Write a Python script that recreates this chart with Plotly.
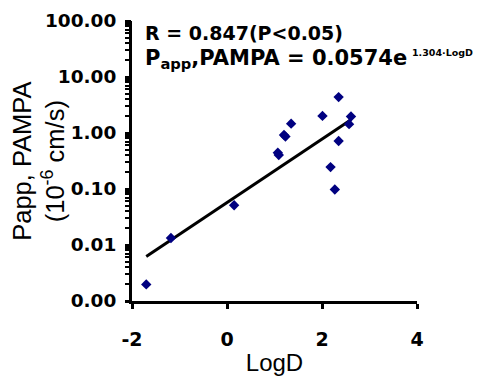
import numpy as np
import plotly.graph_objects as go

# Data
logd = [-1.70, -1.18, 0.15, 1.07, 1.09, 1.20, 1.23, 1.35, 2.01, 2.18, 2.27, 2.35, 2.35, 2.57, 2.61]
papp = [0.00198, 0.0133, 0.0514, 0.446, 0.405, 0.925, 0.863, 1.47, 2.02, 0.246, 0.098, 4.38, 0.72, 1.44, 1.97]

# Fit reported in the chart: Papp = a * exp(b * LogD)
fit_a = 0.0574
fit_b = 1.304

x_ticks = [-2, 0, 2, 4]
y_tickvals = [0.001, 0.01, 0.1, 1, 10, 100]
y_ticktext = ["0.00", "0.01", "0.10", "1.00", "10.00", "100.00"]

ARIAL = "Arial, Liberation Sans, sans-serif"
WIDEB = "DejaVu Sans, Verdana, sans-serif"

fx = np.linspace(min(logd), max(logd), 50)
fy = fit_a * np.exp(fit_b * fx)

# y axis carries major (labelled) and minor (unlabelled) tick positions
minor_vals = [k * 10.0 ** e for e in range(-3, 2) for k in range(2, 10)]
all_vals = y_tickvals + minor_vals
all_text = y_ticktext + [""] * len(minor_vals)

fig = go.Figure()
fig.add_trace(go.Scatter(x=fx, y=fy, mode="lines",
                         line=dict(color="black", width=3), showlegend=False, hoverinfo="skip"))
fig.add_trace(go.Scatter(x=logd, y=papp, mode="markers",
                         marker=dict(symbol="diamond", size=8, color="#000080"),
                         showlegend=False))
# invisible carrier for the overlay axis that draws the longer major ticks
fig.add_trace(go.Scatter(x=[0], y=[1], yaxis="y2", mode="markers",
                         marker=dict(opacity=0), showlegend=False, hoverinfo="skip"))

fig.update_layout(
    width=481, height=376,
    margin=dict(l=124, r=72, t=13, b=83),
    paper_bgcolor="white", plot_bgcolor="white",
    font=dict(family=ARIAL, color="black"),
    xaxis=dict(range=[-2, 4], tickvals=x_ticks, ticktext=[str(v) for v in x_ticks],
               showline=True, linecolor="black", linewidth=3,
               ticks="outside", ticklen=5, tickwidth=3, tickcolor="black",
               showgrid=False, zeroline=False, automargin=False,
               tickfont=dict(family=WIDEB, size=19, weight="bold"), ticklabelstandoff=14,
               title=dict(text="LogD", font=dict(family=ARIAL, size=24), standoff=6)),
    yaxis=dict(type="log", range=[-3, 2], tickmode="array", tickvals=all_vals, ticktext=all_text,
               showline=True, linecolor="black", linewidth=3,
               ticks="outside", ticklen=4, tickwidth=2, tickcolor="black",
               showgrid=False, zeroline=False, automargin=False,
               tickfont=dict(family=WIDEB, size=18.5, weight="bold"), ticklabelstandoff=5),
    yaxis2=dict(type="log", range=[-3, 2], overlaying="y", anchor="x", side="left",
                tickmode="array", tickvals=y_tickvals, showticklabels=False,
                ticks="outside", ticklen=6, tickwidth=3, tickcolor="black",
                showline=False, showgrid=False, zeroline=False, automargin=False),
)

annots = [
    dict(text="Papp, PAMPA<br>(10<sup>-6</sup> cm/s)", x=-0.329, y=0.498, textangle=-90,
         font=dict(family=ARIAL, size=25.5), xanchor="center", yanchor="middle"),
    dict(text="<b>R = 0.847(P<0.05)</b>", x=0.04, y=0.956, xanchor="left", yanchor="middle",
         font=dict(family=WIDEB, size=19)),
    dict(text="<b>P<sub>app</sub>,PAMPA = 0.0574e</b>", x=0.04, y=0.866, xanchor="left",
         yanchor="middle", font=dict(family=WIDEB, size=21)),
    dict(text="<b>1.304·LogD</b>", x=0.974, y=0.887, xanchor="left", yanchor="middle",
         font=dict(family=WIDEB, size=9.5)),
]
for a in annots:
    fig.add_annotation(xref="paper", yref="paper", showarrow=False, **a)

fig.write_html("out.html")
